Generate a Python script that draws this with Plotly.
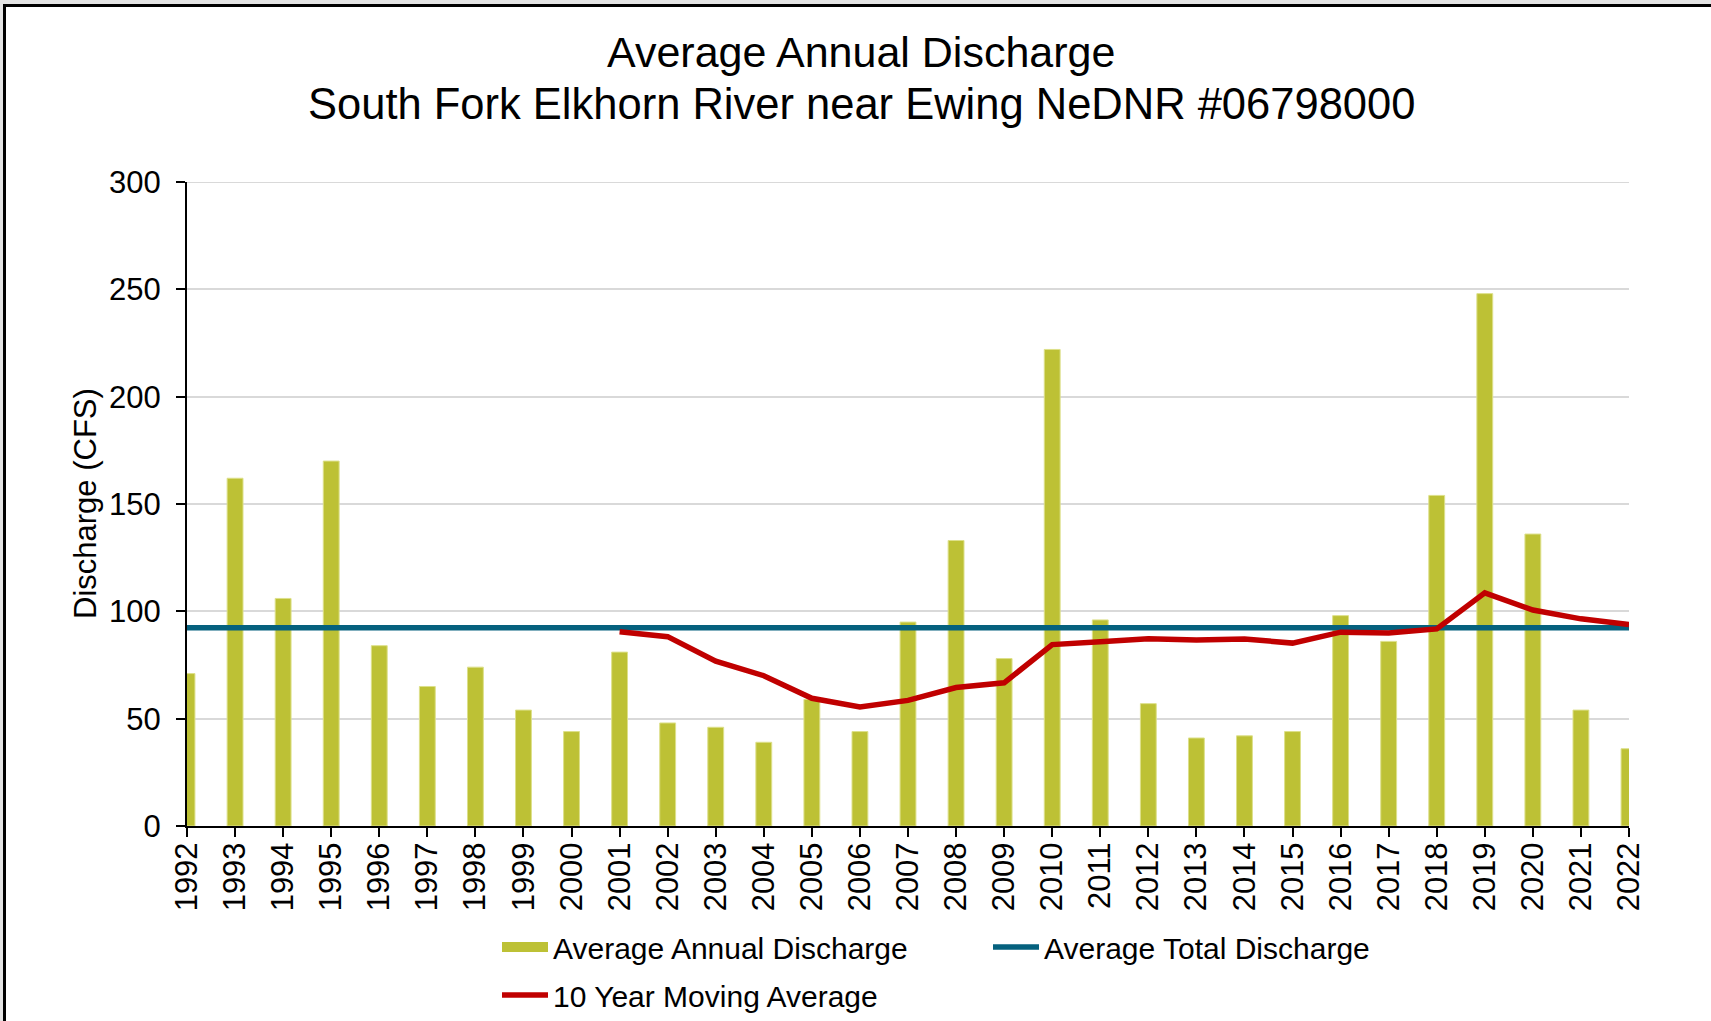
import plotly.graph_objects as go

# ---------------- data ----------------
years = list(range(1992, 2023))
annual_discharge = [71, 162, 106, 170, 84, 65, 74, 54, 44, 81,
                    48, 46, 39, 59, 44, 95, 133, 78, 222, 96,
                    57, 41, 42, 44, 98, 86, 154, 248, 136, 54, 36]
ma_years = list(range(2001, 2023))
moving_avg_10yr = [90.5, 88.2, 76.8, 70.0, 59.5, 55.5, 58.5, 64.5, 66.7, 84.5,
                   85.8, 87.2, 86.6, 87.1, 85.2, 90.3, 89.9, 91.8, 108.6, 100.6,
                   96.5, 93.8]
avg_total_discharge = 92.4
y_ticks = [0, 50, 100, 150, 200, 250, 300]
title_lines = ["Average Annual Discharge",
               "South Fork Elkhorn River near Ewing NeDNR #06798000"]
y_title = "Discharge (CFS)"

# ---------------- layout constants ----------------
W, H = 1711, 1021
L, R, T, B = 187, 82, 182, 195
PW, PH = W - L - R, H - T - B
FONT = "Liberation Sans, Arial, sans-serif"
BAR_COLOR = "#BDC135"
BLUE = "#05617E"
RED = "#C00000"


def px_x(px):
    return (px - L) / PW


def px_y(py):
    return (H - B - py) / PH


fig = go.Figure()

fig.add_trace(go.Bar(
    x=years, y=annual_discharge, name="Average Annual Discharge",
    marker=dict(color=BAR_COLOR, line=dict(color="#DDE08A", width=1)),
    width=0.33, showlegend=False,
))
# legend swatch for the bars (wide rectangle like the original)
fig.add_trace(go.Scatter(
    x=[None], y=[None], mode="lines", name="Average Annual Discharge",
    line=dict(color=BAR_COLOR, width=16), legend="legend",
))
fig.add_trace(go.Scatter(
    x=[years[0], years[-1]], y=[avg_total_discharge, avg_total_discharge],
    mode="lines", name="Average Total Discharge",
    line=dict(color=BLUE, width=5.5), legend="legend",
))
fig.add_trace(go.Scatter(
    x=ma_years, y=moving_avg_10yr, mode="lines", name="10 Year Moving Average",
    line=dict(color=RED, width=5.5), legend="legend2",
))

shapes = [
    dict(type="rect", xref="paper", yref="paper", x0=px_x(0), x1=px_x(W),
         y0=px_y(0), y1=px_y(4), fillcolor="#E3E3E3", line=dict(width=0), layer="below"),
    dict(type="rect", xref="paper", yref="paper", x0=px_x(0), x1=px_x(3),
         y0=px_y(0), y1=px_y(H), fillcolor="#E3E3E3", line=dict(width=0), layer="below"),
    dict(type="line", xref="paper", yref="paper", x0=px_x(3), x1=px_x(W),
         y0=px_y(5.5), y1=px_y(5.5), line=dict(color="black", width=3)),
    dict(type="line", xref="paper", yref="paper", x0=px_x(4.5), x1=px_x(4.5),
         y0=px_y(4), y1=px_y(H), line=dict(color="black", width=3)),
    # top grid line (plotly drops grid lines at the range edge)
    dict(type="line", xref="paper", yref="y", x0=0, x1=1, y0=y_ticks[-1], y1=y_ticks[-1],
         line=dict(color="#D9D9D9", width=2), layer="below"),
]

annotations = [
    dict(text=title_lines[0], xref="paper", yref="paper", x=px_x(861), y=px_y(52),
         xanchor="center", yanchor="middle", showarrow=False,
         font=dict(family=FONT, size=43, color="black")),
    dict(text=title_lines[1], xref="paper", yref="paper", x=px_x(861), y=px_y(104),
         xanchor="center", yanchor="middle", showarrow=False,
         font=dict(family=FONT, size=43.5, color="black")),
    dict(text=y_title, xref="paper", yref="paper", x=px_x(85), y=px_y(504),
         xanchor="center", yanchor="middle", textangle=-90, showarrow=False,
         font=dict(family=FONT, size=31, color="black")),
]

fig.update_layout(
    width=W, height=H,
    margin=dict(l=L, r=R, t=T, b=B, autoexpand=False),
    paper_bgcolor="white", plot_bgcolor="white",
    font=dict(family=FONT, size=30, color="black"),
    xaxis=dict(
        range=[1992, 2022], tickmode="array", tickvals=years,
        ticktext=[str(y) for y in years], tickangle=-90,
        ticks="outside", ticklen=9, tickwidth=2, tickcolor="black",
        showline=True, linecolor="black", linewidth=2,
        showgrid=False, zeroline=False,
        tickfont=dict(size=31), automargin=False, ticklabelstandoff=-7,
    ),
    yaxis=dict(
        range=[0, 300], tickmode="array", tickvals=y_ticks,
        ticks="outside", ticklen=9, tickwidth=2, tickcolor="black",
        showline=True, linecolor="black", linewidth=2,
        showgrid=True, gridcolor="#D9D9D9", gridwidth=2,
        zeroline=False, tickfont=dict(size=31), automargin=False,
        ticklabelstandoff=9,
    ),
    legend=dict(
        orientation="h", x=px_x(497), xanchor="left",
        y=px_y(921), yanchor="top", entrywidth=430, entrywidthmode="pixels",
        font=dict(size=30), bgcolor="rgba(0,0,0,0)", itemwidth=46,
    ),
    legend2=dict(
        orientation="h", x=px_x(497), xanchor="left",
        y=px_y(969), yanchor="top",
        font=dict(size=30), bgcolor="rgba(0,0,0,0)", itemwidth=46,
    ),
    bargap=0.6,
    shapes=shapes,
    annotations=annotations,
)

fig.write_html("out.html", config={"displayModeBar": False},
               post_script="document.body.style.margin='0';")
